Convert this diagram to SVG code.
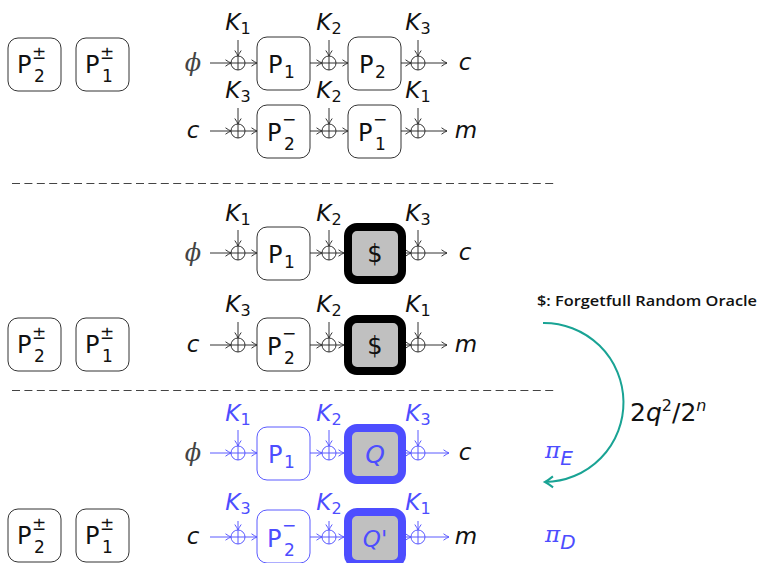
<svg xmlns="http://www.w3.org/2000/svg" width="760" height="563" viewBox="0 0 760 563">
<style>
.t{font-family:"DejaVu Sans",sans-serif;fill:#111}
.i{font-style:italic}
.k{font-family:"DejaVu Sans",sans-serif;font-style:italic;font-size:23px;fill:#111;text-anchor:middle}
.k tspan{font-style:normal;font-size:16px}
.kb{fill:#4d4dff}
.ln{fill:none;stroke:#333;stroke-width:1}
.lb{fill:none;stroke:#5a5aff;stroke-width:1}
.bx{fill:#fff;stroke:#333;stroke-width:1}
.bxb{fill:#fff;stroke:#5a5aff;stroke-width:1}
.thk{fill:#c0c0c0;stroke:#000;stroke-width:8}
.thb{fill:#c0c0c0;stroke:#4d4dff;stroke-width:8}
.xo{fill:#fff;stroke:#333;stroke-width:1}
.xob{fill:#fff;stroke:#5a5aff;stroke-width:1}
.P{font-family:"DejaVu Sans",sans-serif;font-size:24px;fill:#111}
.s{font-family:"DejaVu Sans",sans-serif;font-size:17px;fill:#111}
.phi{font-family:"DejaVu Serif",serif;font-style:italic;font-size:24px;fill:#444;text-anchor:middle}
.v{font-family:"DejaVu Sans",sans-serif;font-style:italic;font-size:23px;fill:#111;text-anchor:middle}
.dash{stroke:#444;stroke-width:1;stroke-dasharray:8 4.4}
</style>
<defs>
<marker id="a" markerUnits="userSpaceOnUse" markerWidth="10" markerHeight="10" refX="8" refY="5" orient="auto" overflow="visible"><path d="M2.5,1.8 Q6,4.2 8,5 Q6,5.8 2.5,8.2" fill="none" stroke="#333" stroke-width="1"/></marker>
<marker id="ab" markerUnits="userSpaceOnUse" markerWidth="10" markerHeight="10" refX="8" refY="5" orient="auto" overflow="visible"><path d="M2.5,1.8 Q6,4.2 8,5 Q6,5.8 2.5,8.2" fill="none" stroke="#5a5aff" stroke-width="1"/></marker>
<marker id="at" markerUnits="userSpaceOnUse" markerWidth="16" markerHeight="16" refX="12" refY="8" orient="auto" overflow="visible"><path d="M4,2.5 Q9,6.5 12,8 Q9,9.5 4,13.5" fill="none" stroke="#19a394" stroke-width="2"/></marker>
</defs>

<g id="separators">
<line class="dash" x1="12" y1="183.5" x2="556" y2="183.5"/>
<line class="dash" x1="12" y1="390.5" x2="556" y2="390.5"/>
</g>

<g id="connectors">
<g class="ln" marker-end="url(#a)">
<path d="M210,63H231"/><path d="M245,63H257"/><path d="M310,63H322"/><path d="M336,63H348"/><path d="M401,63H411"/><path d="M425,63H447"/>
<path d="M238,40V56"/><path d="M329,40V56"/><path d="M418,40V56"/>
<path d="M210,131H231"/><path d="M245,131H257"/><path d="M310,131H322"/><path d="M336,131H348"/><path d="M401,131H411"/><path d="M425,131H447"/>
<path d="M238,108V124"/><path d="M329,108V124"/><path d="M418,108V124"/>
<path d="M210,253H231"/><path d="M245,253H257"/><path d="M310,253H322"/><path d="M336,253H344"/><path d="M404,253H411"/><path d="M425,253H447"/>
<path d="M238,230V246"/><path d="M329,230V246"/><path d="M418,230V246"/>
<path d="M210,345H231"/><path d="M245,345H257"/><path d="M310,345H322"/><path d="M336,345H344"/><path d="M404,345H411"/><path d="M425,345H447"/>
<path d="M238,322V338"/><path d="M329,322V338"/><path d="M418,322V338"/>
</g>
<g class="lb" marker-end="url(#ab)">
<path d="M210,453H231"/><path d="M245,453H257"/><path d="M310,453H322"/><path d="M336,453H344"/><path d="M404,453H411"/><path d="M425,453H449"/>
<path d="M238,430V446"/><path d="M329,430V446"/><path d="M418,430V446"/>
<path d="M210,537H231"/><path d="M245,537H257"/><path d="M310,537H322"/><path d="M336,537H344"/><path d="M404,537H411"/><path d="M425,537H449"/>
<path d="M238,521V530"/><path d="M329,521V530"/><path d="M418,521V530"/>
</g>
<path id="arc" d="M543,323 A79.5,79.5 0 0 1 545,482" fill="none" stroke="#19a394" stroke-width="2" marker-end="url(#at)"/>
</g>

<g id="L1a"><rect class="bx" x="8" y="38" width="53" height="53" rx="10"/><text class="P" x="17" y="73">P</text><text class="s" x="32" y="59">±</text><text class="s" x="34" y="82">2</text></g>
<g id="L1b"><rect class="bx" x="76" y="38" width="53" height="53" rx="10"/><text class="P" x="85" y="73">P</text><text class="s" x="100" y="59">±</text><text class="s" x="102" y="82">1</text></g>
<g id="L2a"><rect class="bx" x="8" y="318" width="53" height="53" rx="10"/><text class="P" x="17" y="353">P</text><text class="s" x="32" y="339">±</text><text class="s" x="34" y="362">2</text></g>
<g id="L2b"><rect class="bx" x="76" y="318" width="53" height="53" rx="10"/><text class="P" x="85" y="353">P</text><text class="s" x="100" y="339">±</text><text class="s" x="102" y="362">1</text></g>
<g id="L3a"><rect class="bx" x="8" y="509" width="53" height="53" rx="10"/><text class="P" x="17" y="544">P</text><text class="s" x="32" y="530">±</text><text class="s" x="34" y="553">2</text></g>
<g id="L3b"><rect class="bx" x="76" y="509" width="53" height="53" rx="10"/><text class="P" x="85" y="544">P</text><text class="s" x="100" y="530">±</text><text class="s" x="102" y="553">1</text></g>

<g id="s1r1">
<text class="phi" x="193" y="71">ϕ</text>
<text class="v" x="465" y="70">c</text>
<text class="k" x="238" y="30">K<tspan dy="4">1</tspan></text>
<text class="k" x="329" y="30">K<tspan dy="4">2</tspan></text>
<text class="k" x="418" y="30">K<tspan dy="4">3</tspan></text>
</g>
<g id="s1x1"><circle class="xo" cx="238" cy="63" r="7"/><path class="ln" d="M231,63H245M238,56V70"/></g>
<g id="s1x2"><circle class="xo" cx="329" cy="63" r="7"/><path class="ln" d="M322,63H336M329,56V70"/></g>
<g id="s1x3"><circle class="xo" cx="418" cy="63" r="7"/><path class="ln" d="M411,63H425M418,56V70"/></g>
<g id="s1P1"><rect class="bx" x="257" y="37" width="53" height="53" rx="10"/><text class="P" x="268" y="73">P</text><text class="s" x="284" y="78">1</text></g>
<g id="s1P2"><rect class="bx" x="348" y="37" width="53" height="53" rx="10"/><text class="P" x="359" y="73">P</text><text class="s" x="375" y="78">2</text></g>

<g id="s1r2">
<text class="v" x="193" y="138">c</text>
<text class="v" x="466" y="138">m</text>
<text class="k" x="238" y="98">K<tspan dy="4">3</tspan></text>
<text class="k" x="329" y="98">K<tspan dy="4">2</tspan></text>
<text class="k" x="418" y="98">K<tspan dy="4">1</tspan></text>
</g>
<g id="s1x4"><circle class="xo" cx="238" cy="131" r="7"/><path class="ln" d="M231,131H245M238,124V138"/></g>
<g id="s1x5"><circle class="xo" cx="329" cy="131" r="7"/><path class="ln" d="M322,131H336M329,124V138"/></g>
<g id="s1x6"><circle class="xo" cx="418" cy="131" r="7"/><path class="ln" d="M411,131H425M418,124V138"/></g>
<g id="s1P2m"><rect class="bx" x="257" y="105" width="53" height="53" rx="10"/><text class="P" x="267" y="141">P</text><text class="s" x="282" y="125">−</text><text class="s" x="284" y="150">2</text></g>
<g id="s1P1m"><rect class="bx" x="348" y="105" width="53" height="53" rx="10"/><text class="P" x="358" y="141">P</text><text class="s" x="373" y="125">−</text><text class="s" x="375" y="150">1</text></g>

<g id="s2r1">
<text class="phi" x="193" y="261">ϕ</text>
<text class="v" x="465" y="260">c</text>
<text class="k" x="238" y="221">K<tspan dy="4">1</tspan></text>
<text class="k" x="329" y="221">K<tspan dy="4">2</tspan></text>
<text class="k" x="418" y="221">K<tspan dy="4">3</tspan></text>
</g>
<g id="s2x1"><circle class="xo" cx="238" cy="253" r="7"/><path class="ln" d="M231,253H245M238,246V260"/></g>
<g id="s2x2"><circle class="xo" cx="329" cy="253" r="7"/><path class="ln" d="M322,253H336M329,246V260"/></g>
<g id="s2x3"><circle class="xo" cx="418" cy="253" r="7"/><path class="ln" d="M411,253H425M418,246V260"/></g>
<g id="s2P1"><rect class="bx" x="257" y="227" width="53" height="53" rx="10"/><text class="P" x="268" y="263">P</text><text class="s" x="284" y="268">1</text></g>
<g id="s2R1"><rect class="thk" x="348" y="227" width="54" height="53" rx="9"/><text class="t" x="375" y="262" font-size="24" text-anchor="middle" fill="#333">$</text></g>

<g id="s2r2">
<text class="v" x="193" y="352">c</text>
<text class="v" x="466" y="352">m</text>
<text class="k" x="238" y="312">K<tspan dy="4">3</tspan></text>
<text class="k" x="329" y="312">K<tspan dy="4">2</tspan></text>
<text class="k" x="418" y="312">K<tspan dy="4">1</tspan></text>
</g>
<g id="s2x4"><circle class="xo" cx="238" cy="345" r="7"/><path class="ln" d="M231,345H245M238,338V352"/></g>
<g id="s2x5"><circle class="xo" cx="329" cy="345" r="7"/><path class="ln" d="M322,345H336M329,338V352"/></g>
<g id="s2x6"><circle class="xo" cx="418" cy="345" r="7"/><path class="ln" d="M411,345H425M418,338V352"/></g>
<g id="s2P2m"><rect class="bx" x="257" y="318" width="53" height="53" rx="10"/><text class="P" x="267" y="355">P</text><text class="s" x="282" y="339">−</text><text class="s" x="284" y="364">2</text></g>
<g id="s2R2"><rect class="thk" x="348" y="319" width="54" height="52" rx="9"/><text class="t" x="375" y="354" font-size="24" text-anchor="middle" fill="#333">$</text></g>

<g id="s3r1">
<text class="phi" x="193" y="461">ϕ</text>
<text class="v" x="465" y="460">c</text>
<text class="k kb" x="238" y="421">K<tspan dy="4">1</tspan></text>
<text class="k kb" x="329" y="421">K<tspan dy="4">2</tspan></text>
<text class="k kb" x="418" y="421">K<tspan dy="4">3</tspan></text>
</g>
<g id="s3x1"><circle class="xob" cx="238" cy="453" r="7"/><path class="lb" d="M231,453H245M238,446V460"/></g>
<g id="s3x2"><circle class="xob" cx="329" cy="453" r="7"/><path class="lb" d="M322,453H336M329,446V460"/></g>
<g id="s3x3"><circle class="xob" cx="418" cy="453" r="7"/><path class="lb" d="M411,453H425M418,446V460"/></g>
<g id="s3P1"><rect class="bxb" x="257" y="427" width="53" height="53" rx="10"/><text class="P" x="268" y="463" style="fill:#4d4dff">P</text><text class="s" x="284" y="468" style="fill:#4d4dff">1</text></g>
<g id="s3Q"><rect class="thb" x="348" y="428" width="54" height="52" rx="9"/><text class="t i" x="375" y="463" font-size="25" text-anchor="middle" style="fill:#4d4dff">Q</text></g>

<g id="s3r2">
<text class="v" x="193" y="544">c</text>
<text class="v" x="466" y="544">m</text>
<text class="k kb" x="238" y="510">K<tspan dy="4">3</tspan></text>
<text class="k kb" x="329" y="510">K<tspan dy="4">2</tspan></text>
<text class="k kb" x="418" y="510">K<tspan dy="4">1</tspan></text>
</g>
<g id="s3x4"><circle class="xob" cx="238" cy="537" r="7"/><path class="lb" d="M231,537H245M238,530V544"/></g>
<g id="s3x5"><circle class="xob" cx="329" cy="537" r="7"/><path class="lb" d="M322,537H336M329,530V544"/></g>
<g id="s3x6"><circle class="xob" cx="418" cy="537" r="7"/><path class="lb" d="M411,537H425M418,530V544"/></g>
<g id="s3P2m"><rect class="bxb" x="257" y="510" width="53" height="53" rx="10"/><text class="P" x="267" y="547" style="fill:#4d4dff">P</text><text class="s" x="282" y="531" style="fill:#4d4dff">−</text><text class="s" x="284" y="556" style="fill:#4d4dff">2</text></g>
<g id="s3Qp"><rect class="thb" x="348" y="512" width="54" height="52" rx="9"/><text class="t i" x="375" y="547" font-size="23" text-anchor="middle" style="fill:#4d4dff">Q'</text></g>

<g id="note"><text x="537" y="306" font-family="'Open Sans','DejaVu Sans',sans-serif" font-size="14" font-weight="600" fill="#111" textLength="220" lengthAdjust="spacingAndGlyphs">$: Forgetfull Random Oracle</text></g>
<g id="bound"><text class="t" x="630" y="421" font-size="25">2<tspan class="i">q</tspan><tspan font-size="16" dy="-10">2</tspan><tspan dy="10">/2</tspan><tspan class="i" font-size="16" dy="-10">n</tspan></text></g>
<g id="piE"><text x="545" y="458" font-family="'DejaVu Serif',serif" font-style="italic" font-size="23" fill="#4d4dff">π<tspan font-family="'DejaVu Sans',sans-serif" font-size="20" dy="7">E</tspan></text></g>
<g id="piD"><text x="545" y="542" font-family="'DejaVu Serif',serif" font-style="italic" font-size="23" fill="#4d4dff">π<tspan font-family="'DejaVu Sans',sans-serif" font-size="20" dy="7">D</tspan></text></g>
</svg>
